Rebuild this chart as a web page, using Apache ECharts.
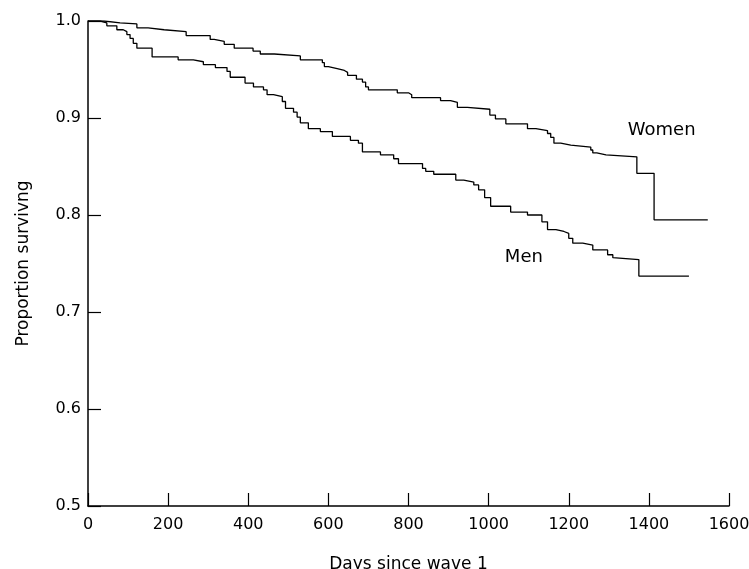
<!DOCTYPE html>
<html>
<head>
<meta charset="utf-8">
<script src="https://cdn.jsdelivr.net/npm/echarts@6/dist/echarts.min.js"></script>
<style>html,body{margin:0;padding:0;background:#fff}#c{width:749px;height:569px}</style>
</head>
<body>
<div id="c"></div>
<script>
// Women: event days and survival after each event
const womenDays = [0,40,80,122,150,190,245,305,315,340,365,412,430,465,530,585,590,600,622,640,648,670,685,693,700,772,800,808,880,905,922,947,1003,1017,1043,1097,1118,1147,1155,1163,1180,1205,1255,1260,1270,1293,1370,1413,1547];
const womenSurv = [1.0,0.998,0.997,0.993,0.991,0.989,0.985,0.981,0.979,0.976,0.972,0.969,0.966,0.964,0.960,0.957,0.953,0.951,0.949,0.947,0.944,0.940,0.937,0.932,0.929,0.926,0.924,0.921,0.918,0.916,0.911,0.909,0.903,0.899,0.894,0.889,0.887,0.884,0.880,0.874,0.872,0.870,0.867,0.864,0.862,0.860,0.843,0.795,0.795];
// Men
const menDays = [0,30,47,72,88,97,105,113,122,160,225,263,288,318,347,355,392,413,438,447,463,485,493,513,522,530,550,580,610,655,675,685,730,763,775,835,843,863,918,938,963,975,990,1005,1055,1097,1133,1147,1168,1188,1200,1210,1235,1260,1297,1310,1313,1375,1500];
const menSurv = [1.0,0.998,0.995,0.991,0.989,0.986,0.982,0.977,0.972,0.963,0.960,0.958,0.955,0.952,0.948,0.942,0.936,0.932,0.929,0.924,0.922,0.917,0.910,0.906,0.901,0.895,0.889,0.886,0.881,0.877,0.874,0.865,0.862,0.858,0.853,0.848,0.845,0.842,0.836,0.834,0.831,0.826,0.818,0.809,0.803,0.800,0.793,0.785,0.783,0.781,0.776,0.771,0.769,0.764,0.759,0.756,0.754,0.737,0.737];
const xTicks = [0,200,400,600,800,1000,1200,1400,1600];
const yTicks = [0.5,0.6,0.7,0.8,0.9,1.0];
const seriesLabels = ['Women','Men'];
const labelAnchors = [[1432,0.887],[1088,0.756]];

const font = 'DejaVu Sans';
const pair = (a,b) => a.map((v,i)=>[v,b[i]]);
const chart = echarts.init(document.getElementById('c'));
const axisCommon = {
  type:'value',
  splitLine:{show:false},
  axisLine:{show:true,onZero:false,lineStyle:{color:'#000',width:1.5}},
  axisTick:{show:true,inside:true,length:13,lineStyle:{color:'#000',width:1.2}},
  nameLocation:'middle',
  nameTextStyle:{fontFamily:font,fontSize:17,color:'#000'}
};
chart.setOption({
  animation:false,
  backgroundColor:'#fff',
  grid:{left:88,top:21,right:20,bottom:63,containLabel:false,outerBoundsMode:'none'},
  xAxis:Object.assign({},axisCommon,{
    min:xTicks[0],max:xTicks[xTicks.length-1],interval:200,
    name:'Days since wave 1',nameGap:50,
    axisLabel:{fontFamily:font,fontSize:16,color:'#000',margin:11,formatter:v=>String(v)}
  }),
  yAxis:Object.assign({},axisCommon,{
    min:yTicks[0],max:yTicks[yTicks.length-1],interval:0.1,
    name:'Proportion survivng',nameGap:56,
    axisLabel:{fontFamily:font,fontSize:16,color:'#000',margin:7,formatter:v=>v.toFixed(1)}
  }),
  series:[
    {type:'line',step:'end',showSymbol:false,data:pair(womenDays,womenSurv),lineStyle:{color:'#000',width:1.3}},
    {type:'line',step:'end',showSymbol:false,data:pair(menDays,menSurv),lineStyle:{color:'#000',width:1.3}}
  ]
});
chart.setOption({
  graphic: labelAnchors.map((a,i)=>{
    const p = chart.convertToPixel({gridIndex:0}, a);
    return {type:'text',x:p[0],y:p[1],style:{text:seriesLabels[i],fontFamily:font,fontSize:18,fill:'#000',align:'center',verticalAlign:'middle'}};
  })
});
</script>
</body>
</html>
